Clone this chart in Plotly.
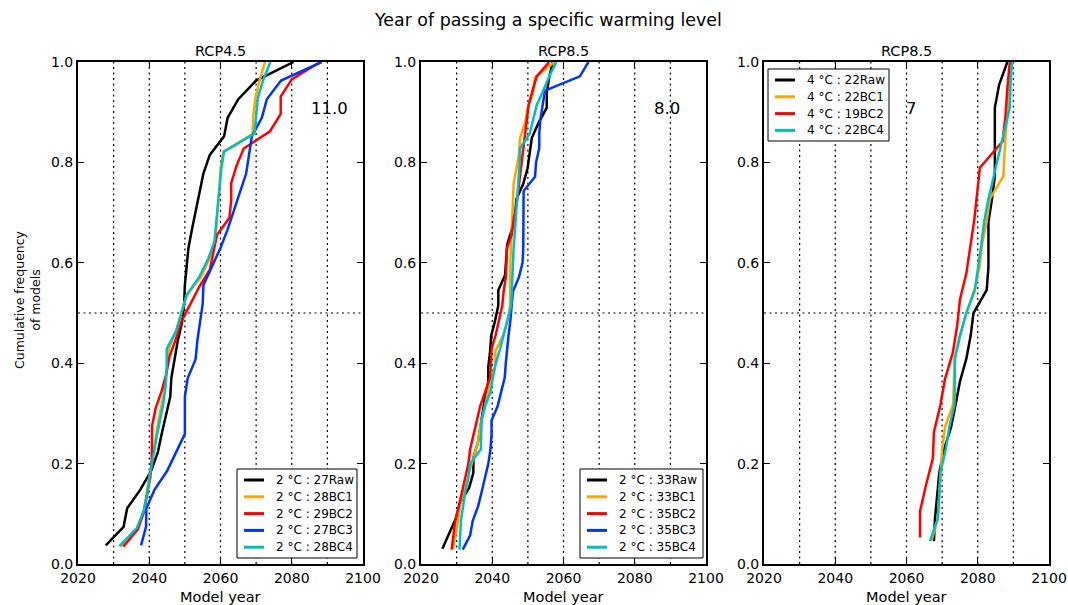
import plotly.graph_objects as go

# ---------------- data ----------------
p1_raw = [2027.8, 2032.8, 2033.8, 2037.5, 2040.5, 2042.4, 2043.5, 2044.7, 2045.9, 2046.2, 2047.0,
          2048.0, 2049.2, 2049.8, 2050.0, 2050.4, 2051.0, 2052.0, 2053.0, 2054.0, 2055.2, 2057.0,
          2061.0, 2062.0, 2065.0, 2070.0, 2080.5]
p1_bc1 = [2032.0, 2036.8, 2038.5, 2039.3, 2040.0, 2040.8, 2041.8, 2042.6, 2043.6, 2044.6, 2045.0,
          2045.5, 2047.5, 2049.0, 2050.5, 2054.5, 2056.8, 2058.5, 2059.0, 2059.3, 2059.7, 2060.0,
          2060.8, 2069.0, 2069.2, 2069.8, 2071.0, 2072.5]
p1_bc2 = [2032.7, 2036.8, 2038.5, 2039.5, 2040.3, 2040.7, 2040.7, 2040.8, 2041.8, 2043.5, 2044.8,
          2045.7, 2047.5, 2049.0, 2051.5, 2054.0, 2057.0, 2058.0, 2059.0, 2062.5, 2063.0, 2063.0,
          2064.5, 2066.5, 2073.9, 2076.9, 2076.9, 2080.0, 2088.0]
p1_bc3 = [2037.7, 2039.1, 2039.2, 2041.5, 2045.0, 2047.5, 2050.0, 2050.0, 2050.0, 2050.8, 2053.0,
          2053.5, 2054.2, 2055.0, 2055.2, 2057.5, 2060.0, 2062.0, 2063.8, 2065.5, 2067.2, 2068.0,
          2068.8, 2071.6, 2073.0, 2077.0, 2088.4]
p1_bc4 = [2031.6, 2036.5, 2038.5, 2039.5, 2040.2, 2041.0, 2042.0, 2043.0, 2044.0, 2044.6, 2044.9,
          2044.9, 2047.6, 2049.0, 2050.5, 2054.0, 2056.5, 2058.3, 2058.8, 2059.2, 2059.6, 2060.2,
          2061.0, 2069.5, 2070.0, 2070.5, 2072.0, 2074.0]

p2_raw = [2026.0, 2028.0, 2029.8, 2030.9, 2033.5, 2034.7, 2034.7, 2036.0, 2036.6, 2037.2, 2038.0,
          2038.9, 2038.9, 2039.4, 2039.7, 2040.8, 2041.7, 2041.7, 2043.6, 2043.9, 2044.2, 2045.5,
          2046.4, 2046.8, 2048.7, 2049.9, 2050.5, 2051.1, 2053.0, 2055.3, 2055.3, 2056.0, 2057.0]
p2_bc1 = [2029.0, 2029.8, 2030.5, 2031.0, 2032.5, 2033.5, 2034.8, 2036.0, 2036.6, 2037.5, 2038.5,
          2039.5, 2040.8, 2040.9, 2043.0, 2044.3, 2045.0, 2045.0, 2045.0, 2045.1, 2045.3, 2045.5,
          2045.6, 2045.8, 2046.0, 2046.8, 2047.5, 2047.8, 2049.2, 2050.0, 2051.5, 2052.0, 2057.5]
p2_bc2 = [2028.6, 2029.0, 2029.6, 2030.6, 2031.5, 2032.5, 2033.3, 2033.8, 2034.8, 2035.8, 2036.6,
          2038.0, 2039.4, 2039.6, 2039.8, 2041.0, 2041.9, 2042.8, 2043.2, 2043.8, 2044.0, 2044.1,
          2045.5, 2046.0, 2046.8, 2047.3, 2047.8, 2048.3, 2048.8, 2049.3, 2049.8, 2050.2, 2051.3,
          2052.5, 2056.0]
p2_bc3 = [2031.7, 2033.8, 2034.5, 2036.0, 2037.0, 2038.0, 2038.9, 2039.5, 2039.8, 2039.8, 2041.5,
          2042.5, 2043.5, 2043.8, 2044.1, 2044.6, 2045.1, 2045.5, 2045.8, 2047.5, 2048.5, 2048.7,
          2048.7, 2048.7, 2048.7, 2048.8, 2052.0, 2052.3, 2053.2, 2053.2, 2053.5, 2054.2, 2054.8,
          2064.6, 2067.0]
p2_bc4 = [2030.8, 2030.9, 2031.2, 2031.8, 2032.4, 2033.3, 2033.8, 2036.8, 2037.0, 2037.0, 2038.0,
          2039.5, 2040.2, 2041.0, 2042.2, 2043.3, 2044.2, 2045.3, 2045.5, 2045.6, 2045.7, 2046.0,
          2046.3, 2046.6, 2046.9, 2047.2, 2047.5, 2047.7, 2047.8, 2050.5, 2051.5, 2052.5, 2054.3,
          2056.0, 2058.0]

p3_raw = [2067.7, 2068.0, 2068.6, 2069.2, 2070.5, 2072.5, 2073.8, 2075.0, 2076.8, 2078.0, 2078.8,
          2082.5, 2083.0, 2083.0, 2083.0, 2084.0, 2084.8, 2084.8, 2084.8, 2084.8, 2086.0, 2088.3]
p3_bc1 = [2067.0, 2068.8, 2069.2, 2069.5, 2070.0, 2070.8, 2073.1, 2073.3, 2073.5, 2075.0, 2076.8,
          2079.0, 2080.5, 2081.2, 2082.5, 2083.4, 2087.2, 2087.5, 2088.0, 2088.5, 2089.0, 2089.3]
p3_bc2 = [2063.8, 2063.8, 2065.5, 2067.4, 2067.7, 2069.5, 2070.8, 2073.0, 2074.2, 2075.0, 2076.8,
          2078.0, 2079.0, 2079.8, 2080.6, 2087.0, 2087.8, 2088.3, 2089.0]
p3_bc4 = [2066.6, 2068.8, 2069.2, 2069.5, 2071.0, 2072.0, 2073.5, 2073.6, 2073.6, 2075.0, 2076.8,
          2079.2, 2080.2, 2081.0, 2081.8, 2083.0, 2084.5, 2086.0, 2087.3, 2089.0, 2089.2, 2089.6]

panel_titles = ["RCP4.5", "RCP8.5", "RCP8.5"]
panel_numbers = ["11.0", "8.0", "7"]
level_labels = ["2", "2", "4"]
x_ticks = [2020, 2040, 2060, 2080, 2100]
y_ticks = [0.0, 0.2, 0.4, 0.6, 0.8, 1.0]
vlines = [2030, 2040, 2050, 2060, 2070, 2080, 2090]
hline = 0.5

panels = [
    [("Raw", p1_raw, "#000000"), ("BC1", p1_bc1, "#FFA500"), ("BC2", p1_bc2, "#FF0000"),
     ("BC3", p1_bc3, "#0033FF"), ("BC4", p1_bc4, "#00BFBF")],
    [("Raw", p2_raw, "#000000"), ("BC1", p2_bc1, "#FFA500"), ("BC2", p2_bc2, "#FF0000"),
     ("BC3", p2_bc3, "#0033FF"), ("BC4", p2_bc4, "#00BFBF")],
    [("Raw", p3_raw, "#000000"), ("BC1", p3_bc1, "#FFA500"), ("BC2", p3_bc2, "#FF0000"),
     ("BC4", p3_bc4, "#00BFBF")],
]

# ---------------- layout geometry (pixels) ----------------
W, H = 1068, 605
FONT = "DejaVu Sans"
px_x = [(78, 363), (421, 706), (764, 1049)]
px_top, px_bot = 62, 564
# legend boxes: (left, top, right, bottom) in pixels
legend_boxes = [(237, 469, 357, 558), (580, 469, 703, 558), (768, 69, 889, 141)]


def fx(p):
    return p / W


def fy(p):
    return 1 - p / H


xdoms = [(fx(a), fx(b)) for a, b in px_x]
ydom = (fy(px_bot), fy(px_top))

fig = go.Figure()

for p, series in enumerate(panels):
    xa = "x" if p == 0 else f"x{p+1}"
    ya = "y" if p == 0 else f"y{p+1}"
    for name, vals, col in series:
        n = len(vals)
        ys = [(i + 1) / n for i in range(n)]
        fig.add_trace(go.Scatter(
            x=vals, y=ys, mode="lines", xaxis=xa, yaxis=ya,
            line=dict(color=col, width=2.5),
            name=f"{level_labels[p]} °C : {n}{name}", showlegend=False))

layout = dict(
    width=W, height=H, margin=dict(l=0, r=0, t=0, b=0, autoexpand=False),
    paper_bgcolor="white", plot_bgcolor="white",
    font=dict(family=FONT, size=14, color="black"),
    showlegend=False,
)

for p in range(3):
    xk = "xaxis" if p == 0 else f"xaxis{p+1}"
    yk = "yaxis" if p == 0 else f"yaxis{p+1}"
    ya_ref = "y" if p == 0 else f"y{p+1}"
    xa_ref = "x" if p == 0 else f"x{p+1}"
    layout[xk] = dict(
        domain=list(xdoms[p]), anchor=ya_ref, range=[2020, 2100], automargin=False,
        tickvals=x_ticks, ticktext=[str(t) for t in x_ticks],
        ticks="inside", ticklen=6, tickwidth=1, tickcolor="black",
        showline=True, linecolor="black", linewidth=2, mirror="ticks",
        showgrid=False, zeroline=False,
        tickfont=dict(size=14, family=FONT),
    )
    layout[yk] = dict(
        domain=list(ydom), anchor=xa_ref, range=[0, 1], automargin=False,
        tickvals=y_ticks, ticktext=[f"{t:.1f}" for t in y_ticks],
        ticks="inside", ticklen=6, tickwidth=1, tickcolor="black",
        showline=True, linecolor="black", linewidth=2, mirror="ticks",
        showgrid=False, zeroline=False,
        tickfont=dict(size=14, family=FONT),
    )

fig.update_layout(**layout)

shapes = []
annotations = []
DOT = "2px,3.5px"
for p in range(3):
    xa_ref = "x" if p == 0 else f"x{p+1}"
    ya_ref = "y" if p == 0 else f"y{p+1}"
    for v in vlines:
        shapes.append(dict(type="line", xref=xa_ref, yref=ya_ref, x0=v, x1=v, y0=0, y1=1,
                           line=dict(color="black", width=1.2, dash=DOT), layer="below"))
    shapes.append(dict(type="line", xref=xa_ref, yref=ya_ref, x0=2020, x1=2100, y0=hline, y1=hline,
                       line=dict(color="black", width=1.2, dash=DOT), layer="below"))
    cx = (xdoms[p][0] + xdoms[p][1]) / 2
    annotations.append(dict(text=panel_titles[p], xref="paper", yref="paper", x=cx, y=fy(51),
                            yanchor="middle", xanchor="center", showarrow=False,
                            font=dict(size=14.5, family=FONT)))
    annotations.append(dict(text="Model year", xref="paper", yref="paper", x=cx, y=fy(597),
                            yanchor="middle", xanchor="center", showarrow=False,
                            font=dict(size=14.5, family=FONT)))

    # legend (drawn from the series of the panel)
    L, T, R, B = legend_boxes[p]
    shapes.append(dict(type="rect", xref="paper", yref="paper", x0=fx(L), x1=fx(R),
                       y0=fy(B), y1=fy(T), line=dict(color="black", width=1),
                       fillcolor="white", layer="above"))
    for k, (name, vals, col) in enumerate(panels[p]):
        ry = T + 11 + k * 16.8
        shapes.append(dict(type="line", xref="paper", yref="paper", x0=fx(L + 7), x1=fx(L + 27),
                           y0=fy(ry), y1=fy(ry), line=dict(color=col, width=3), layer="above"))
        annotations.append(dict(text=f"{level_labels[p]} °C : {len(vals)}{name}",
                                xref="paper", yref="paper", x=fx(L + 37), y=fy(ry),
                                xanchor="left", yanchor="middle", showarrow=False,
                                font=dict(size=12, family=FONT)))

annotations.append(dict(text=panel_numbers[0], xref="x", yref="y", x=2090.5, y=0.908,
                        showarrow=False, font=dict(size=16.5, family=FONT)))
annotations.append(dict(text=panel_numbers[1], xref="x2", yref="y2", x=2089, y=0.908,
                        showarrow=False, font=dict(size=16.5, family=FONT)))
annotations.append(dict(text=panel_numbers[2], xref="x3", yref="y3", x=2061.3, y=0.908,
                        showarrow=False, font=dict(size=16.5, family=FONT)))

annotations.append(dict(text="Year of passing a specific warming level", xref="paper", yref="paper",
                        x=fx(547.5), y=fy(20), xanchor="center", yanchor="middle", showarrow=False,
                        font=dict(size=17.4, family=FONT)))
annotations.append(dict(text="Cumulative frequency<br>of models", xref="paper", yref="paper",
                        x=fx(27), y=fy(300), xanchor="center", yanchor="middle",
                        textangle=-90, showarrow=False, font=dict(size=12.5, family=FONT)))

fig.update_layout(shapes=shapes, annotations=annotations)

fig.write_html("out.html", config={"displayModeBar": False},
               post_script="document.body.style.margin='0';document.body.style.overflow='hidden';")
